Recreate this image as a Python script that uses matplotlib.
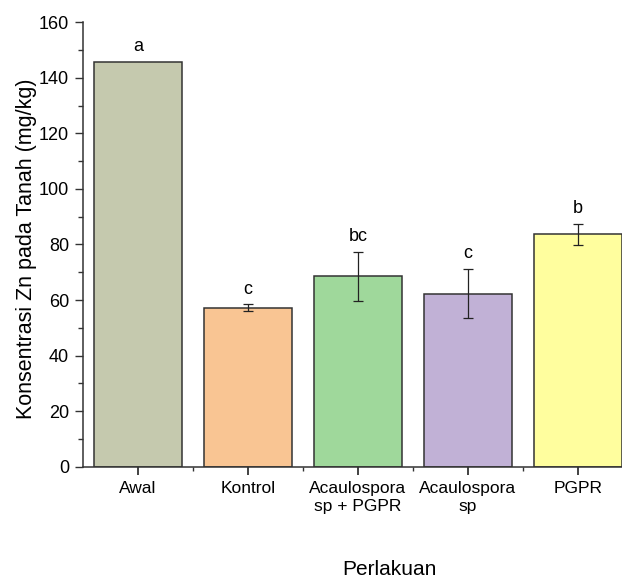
import matplotlib.pyplot as plt
from matplotlib.ticker import MultipleLocator, FixedLocator

plt.rcParams['font.family'] = ['Liberation Sans', 'DejaVu Sans']

# data
perlakuan = ['Awal', 'Kontrol', 'Acaulospora\nsp + PGPR', 'Acaulospora\nsp', 'PGPR']
zn = [145.8, 57.3, 68.5, 62.3, 83.6]
zn_err = [0, 1.1, 8.7, 8.9, 3.8]
notasi = ['a', 'c', 'bc', 'c', 'b']
warna = ['#C5C9AE', '#F9C593', '#9FD89B', '#C1B1D6', '#FFFE9E']

fig = plt.figure(figsize=(6.22, 5.78), dpi=100)
ax = fig.add_axes([0.1334, 0.1926, 0.8842, 0.7688])

x = list(range(len(perlakuan)))
ax.bar(x, zn, width=0.8, color=warna, edgecolor='#333333', linewidth=1.1)
for i in x:
    if zn_err[i] > 0:
        ax.errorbar(i, zn[i], yerr=zn_err[i], fmt='none', ecolor='#222222',
                    elinewidth=0.9, capsize=3.5, capthick=0.9)
    ax.annotate(notasi[i], (i, zn[i] + zn_err[i]), xytext=(0, 5),
                textcoords='offset points', ha='center', va='bottom', fontsize=13)

ax.set_xlim(-0.5, 4.5)
ax.set_ylim(0, 160)
ax.yaxis.set_major_locator(MultipleLocator(20))
ax.yaxis.set_minor_locator(MultipleLocator(10))
ax.set_xticks(x)
ax.set_xticklabels(perlakuan, fontsize=12.5, linespacing=1.2)
ax.xaxis.set_minor_locator(FixedLocator([0.5, 1.5, 2.5, 3.5]))
ax.tick_params(axis='y', labelsize=13, length=6, width=1, pad=4, color='#333333')
ax.tick_params(axis='y', which='minor', length=3.5, width=1, color='#333333')
ax.tick_params(axis='x', length=5.5, width=1.3, pad=5, color='#333333')
ax.tick_params(axis='x', which='minor', length=3, width=1, color='#333333')

for s in ['top', 'right']:
    ax.spines[s].set_visible(False)
for s in ['left', 'bottom']:
    ax.spines[s].set_color('#333333')
    ax.spines[s].set_linewidth(1.1)

ax.set_ylabel('Konsentrasi Zn pada Tanah (mg/kg)', fontsize=15.5)
ax.yaxis.set_label_coords(-0.083, 0.49)
ax.set_xlabel('Perlakuan', fontsize=15)
ax.xaxis.label.set_va('baseline')
ax.xaxis.set_label_coords(0.558, -0.243)

fig.savefig('out.png', dpi=100)
